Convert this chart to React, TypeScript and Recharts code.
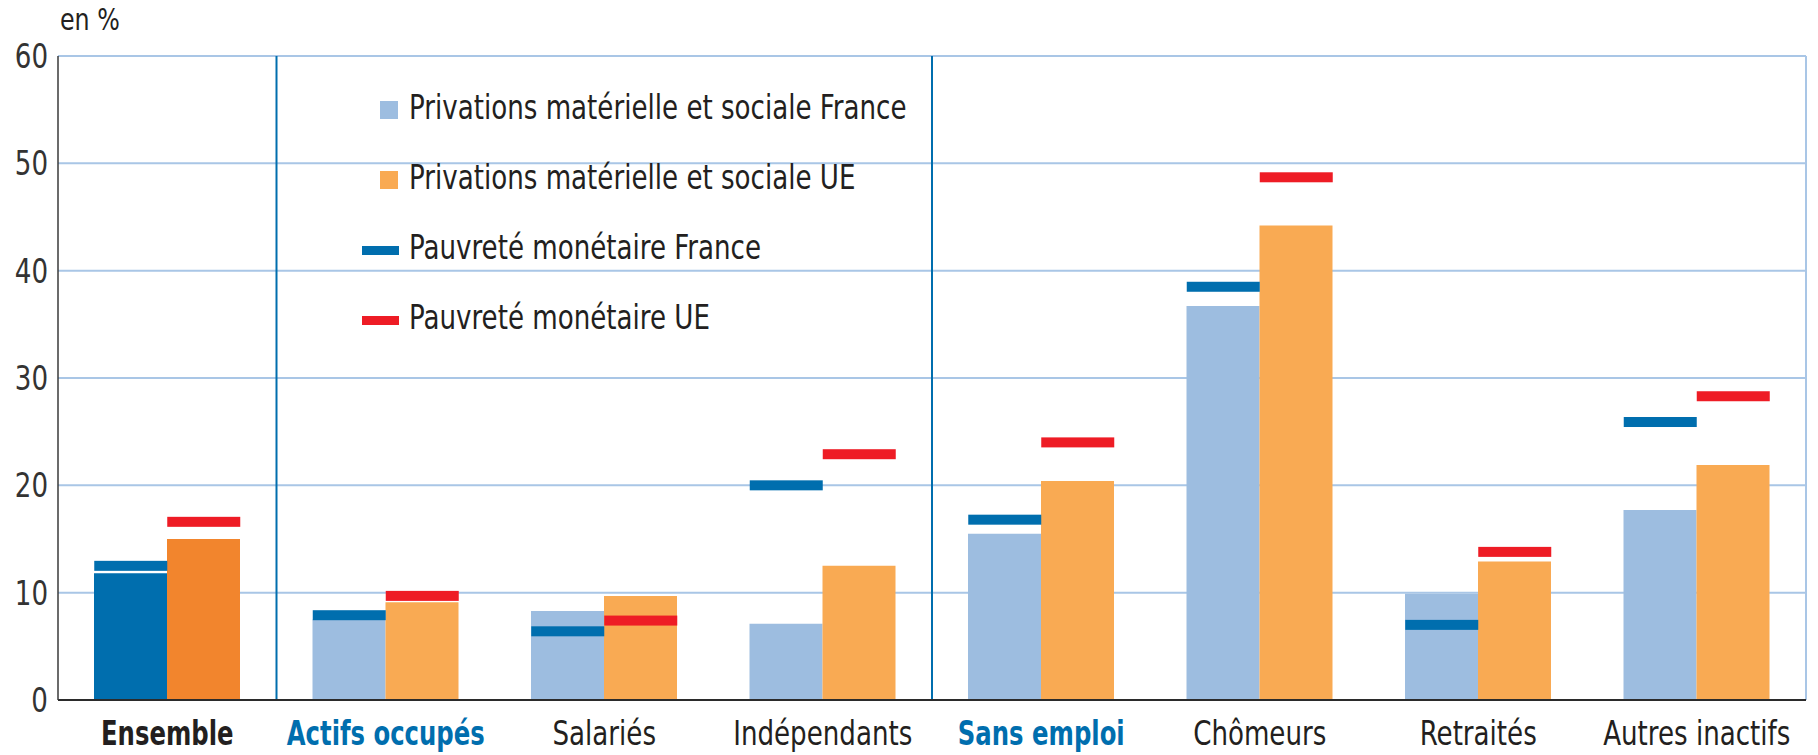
import React from 'react';
import {
  ComposedChart,
  Bar,
  Scatter,
  XAxis,
  YAxis,
  CartesianGrid,
  ReferenceLine,
  Legend,
  Cell,
} from 'recharts';

// ---- Data ----
const categories = [
  'Ensemble',
  'Actifs occupés',
  'Salariés',
  'Indépendants',
  'Sans emploi',
  'Chômeurs',
  'Retraités',
  'Autres inactifs',
];
const privationsFrance = [11.8, 7.5, 8.3, 7.1, 15.5, 36.7, 9.9, 17.7];
const privationsUE = [15.0, 9.1, 9.7, 12.5, 20.4, 44.2, 12.9, 21.9];
const pauvreteFrance = [12.5, 7.9, 6.4, 20.0, 16.8, 38.5, 7.0, 25.9];
const pauvreteUE = [16.6, 9.7, 7.4, 22.9, 24.0, 48.7, 13.8, 28.3];
const yTicks = [0, 10, 20, 30, 40, 50, 60];
const seriesNames = [
  'Privations matérielle et sociale France',
  'Privations matérielle et sociale UE',
  'Pauvreté monétaire France',
  'Pauvreté monétaire UE',
];

const data = categories.map((cat, i) => ({
  cat,
  privFr: privationsFrance[i],
  privUE: privationsUE[i],
  pauvFr: pauvreteFrance[i],
  pauvUE: pauvreteUE[i],
}));

// ---- Styles ----
const W = 1818;
const H = 755;
const FONT = "'Liberation Sans Narrow', 'Arial Narrow', 'DejaVu Sans Condensed', sans-serif";
const TEXT = '#231f20';
const DARK_BLUE = '#006eae';
const DARK_ORANGE = '#f2852d';
const LIGHT_BLUE = '#9dbde0';
const LIGHT_ORANGE = '#f9aa53';
const RED = '#ee1c25';
const GRID = '#a9c6e6';
const BAR = 73;
const MARK_H = 10;
const SQUEEZE = 0.88;
const SQUEEZE_BOLD = 0.82;

const labelStyle: Record<string, { bold: boolean; color: string }> = {
  Ensemble: { bold: true, color: TEXT },
  'Actifs occupés': { bold: true, color: DARK_BLUE },
  'Sans emploi': { bold: true, color: DARK_BLUE },
};

const XTick = (props: any) => {
  const { x, y, payload } = props;
  const st = labelStyle[payload.value] || { bold: false, color: TEXT };
  const s = st.bold ? SQUEEZE_BOLD : SQUEEZE;
  return (
    <g transform={`translate(${x},${y + 37}) scale(${s},1)`}>
      <text
        x={0}
        y={0}
        textAnchor="middle"
        fontFamily={FONT}
        fontStretch="condensed"
        fontSize={33}
        fontWeight={st.bold ? 700 : 400}
        fill={st.color}
      >
        {payload.value}
      </text>
    </g>
  );
};

const YTick = (props: any) => {
  const { x, y, payload } = props;
  return (
    <g transform={`translate(${x},${y}) scale(${SQUEEZE},1)`}>
      <text
        x={0}
        y={0}
        dy="0.36em"
        textAnchor="end"
        fontFamily={FONT}
        fontStretch="condensed"
        fontSize={33}
        fill="#333"
      >
        {payload.value}
      </text>
    </g>
  );
};

const markerShape = (side: 'left' | 'right', color: string) => (p: any) => {
  if (p.cx == null || p.cy == null) return <g />;
  return (
    <rect
      x={side === 'left' ? p.cx - BAR : p.cx}
      y={p.cy - MARK_H / 2}
      width={BAR}
      height={MARK_H}
      fill={color}
    />
  );
};

const LegendContent = () => {
  const rows = [
    { name: seriesNames[0], type: 'square', color: LIGHT_BLUE },
    { name: seriesNames[1], type: 'square', color: LIGHT_ORANGE },
    { name: seriesNames[2], type: 'line', color: DARK_BLUE },
    { name: seriesNames[3], type: 'line', color: RED },
  ];
  return (
    <div style={{ fontFamily: FONT, fontStretch: 'condensed', fontSize: 33, color: TEXT }}>
      {rows.map((r) => (
        <div key={r.name} style={{ display: 'flex', alignItems: 'center', height: 70, whiteSpace: 'nowrap' }}>
          <div style={{ width: 47, height: 40, position: 'relative', flex: 'none' }}>
            {r.type === 'square' ? (
              <div
                style={{ position: 'absolute', left: 18, top: 14, width: 18, height: 18, background: r.color }}
              />
            ) : (
              <div
                style={{ position: 'absolute', left: 0, top: 19, width: 37, height: 9, background: r.color }}
              />
            )}
          </div>
          <span style={{ display: 'inline-block', transform: `scaleX(${SQUEEZE})`, transformOrigin: 'left center' }}>
            {r.name}
          </span>
        </div>
      ))}
    </div>
  );
};

export default function App() {
  return (
    <div style={{ position: 'absolute', left: 0, top: 0, width: W, height: H, background: '#fff' }}>
      <div
        style={{
          position: 'absolute',
          left: 60,
          top: 0,
          fontFamily: FONT,
          fontStretch: 'condensed',
          fontSize: 30,
          lineHeight: '40px',
          color: TEXT,
          transform: `scaleX(${SQUEEZE})`,
          transformOrigin: 'left center',
        }}
      >
        en %
      </div>
      <ComposedChart
        width={W}
        height={H}
        data={data}
        margin={{ top: 56, right: 12, bottom: 0, left: 0 }}
        barGap={0}
      >
        <CartesianGrid vertical={false} stroke={GRID} strokeWidth={2} />
        <XAxis
          dataKey="cat"
          height={55}
          interval={0}
          axisLine={{ stroke: '#2b2b2b', strokeWidth: 2 }}
          tickLine={false}
          tick={<XTick />}
        />
        <YAxis
          width={58}
          domain={[0, 60]}
          ticks={yTicks}
          interval={0}
          axisLine={{ stroke: '#3a3a3a', strokeWidth: 1.5 }}
          tickLine={false}
          tickMargin={4}
          tick={<YTick />}
        />
        <ReferenceLine x="Ensemble" position="end" stroke={DARK_BLUE} strokeWidth={2} />
        <ReferenceLine x="Indépendants" position="end" stroke={DARK_BLUE} strokeWidth={2} />
        <ReferenceLine x="Autres inactifs" position="end" stroke={GRID} strokeWidth={2} />
        <Bar dataKey="privFr" name={seriesNames[0]} barSize={BAR} fill={LIGHT_BLUE} isAnimationActive={false}>
          {data.map((d, i) => (
            <Cell key={d.cat} fill={i === 0 ? DARK_BLUE : LIGHT_BLUE} />
          ))}
        </Bar>
        <Bar dataKey="privUE" name={seriesNames[1]} barSize={BAR} fill={LIGHT_ORANGE} isAnimationActive={false}>
          {data.map((d, i) => (
            <Cell key={d.cat} fill={i === 0 ? DARK_ORANGE : LIGHT_ORANGE} />
          ))}
        </Bar>
        <Scatter
          dataKey="pauvFr"
          name={seriesNames[2]}
          fill={DARK_BLUE}
          shape={markerShape('left', DARK_BLUE)}
          isAnimationActive={false}
        />
        <Scatter
          dataKey="pauvUE"
          name={seriesNames[3]}
          fill={RED}
          shape={markerShape('right', RED)}
          isAnimationActive={false}
        />
        <Legend
          layout="vertical"
          align="center"
          verticalAlign="middle"
          content={<LegendContent />}
          wrapperStyle={{ left: 362, top: 72, width: 'auto', height: 'auto' }}
        />
      </ComposedChart>
    </div>
  );
}
